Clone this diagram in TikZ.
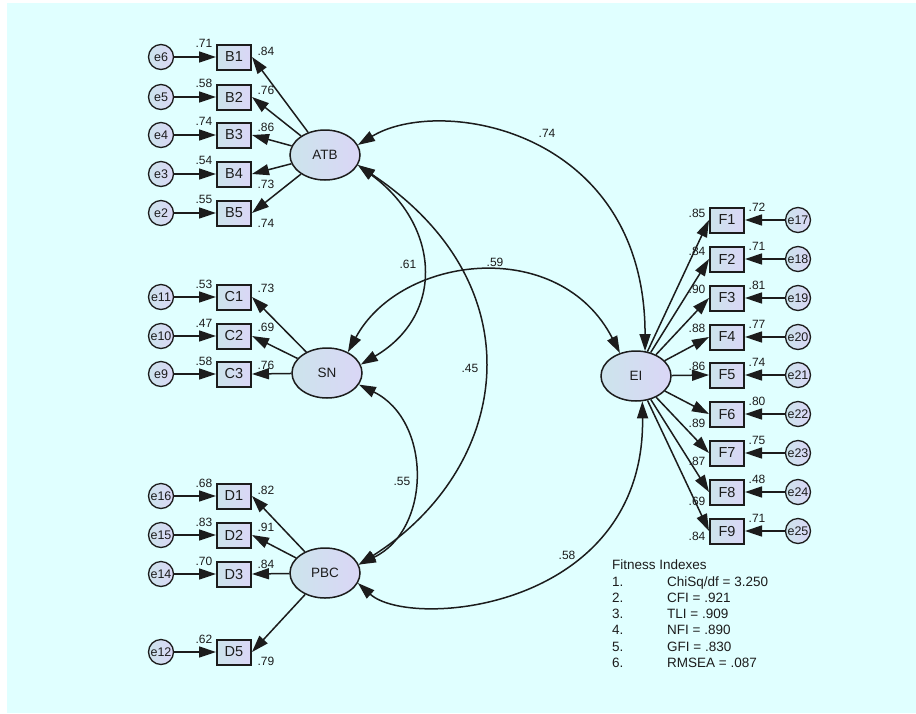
\documentclass[tikz,border=0pt]{standalone}
\usepackage{fontspec}
\setmainfont{Liberation Sans}
\usetikzlibrary{arrows.meta,shapes.geometric}
\definecolor{bgc}{RGB}{224,255,255}
\definecolor{fl}{RGB}{204,228,236}
\definecolor{fr}{RGB}{218,214,246}
\definecolor{ink}{RGB}{28,28,28}
\tikzset{
 err/.style={circle, draw=ink, line width=1.3pt, left color=fl, right color=fr, minimum size=25pt, inner sep=0pt, font=\fontsize{12.5}{13}\selectfont, text=ink},
 obs/.style={rectangle, draw=ink, line width=2pt, left color=fl, right color=fr, minimum width=34pt, minimum height=25pt, inner sep=0pt, font=\fontsize{14.5}{15}\selectfont, text=ink},
 lat/.style={ellipse, draw=ink, line width=1.5pt, left color=fl, right color=fr, minimum width=70pt, minimum height=50pt, inner sep=0pt, font=\fontsize{13.5}{14}\selectfont, text=ink},
 lbl/.style={font=\fontsize{12}{13}\selectfont, text=ink, inner sep=0pt},
 arr/.style={draw=ink, line width=1.5pt, -{Triangle[length=17pt,width=11pt]}},
 cov/.style={draw=ink, line width=1.5pt, {Triangle[length=17pt,width=11pt]}-{Triangle[length=17pt,width=11pt]}},
 fitx/.style={font=\fontsize{13.5}{14}\selectfont, text=ink, anchor=base west, inner sep=0pt},
}
\begin{document}
\begin{tikzpicture}[x=1pt,y=-1pt]
\useasboundingbox (0,0) rectangle (916,713);
\fill[bgc] (7,3) rectangle (916,713);

% latent variables
\node[lat] (ATB) at (325,155) {ATB};
\node[lat] (SN) at (327,373) {SN};
\node[lat] (PBC) at (325,573) {PBC};
\node[lat] (EI) at (636,376) {EI};

% ATB block
\foreach \nn/\yy/\ee/\va/\lo/\oy in {1/57/6/.71/.84/-6, 2/97/5/.58/.76/-7, 3/135/4/.74/.86/-8, 4/174/3/.54/.73/10, 5/213/2/.55/.74/10} {
  \node[err] (e\ee) at (161,\yy) {e\ee};
  \node[obs] (B\nn) at (234,\yy) {B\nn};
  \draw[arr] (e\ee) -- (B\nn);
  \draw[arr] (ATB) -- (B\nn.east);
  \node[lbl] (vB\nn) at (204,{\yy-14}) {\va};
  \node[lbl] (lB\nn) at (266,{\yy+\oy}) {\lo};
}
% SN block
\foreach \nn/\yy/\ee/\va/\lo/\oy in {1/297/11/.53/.73/-9, 2/336/10/.47/.69/-9, 3/374/9/.58/.76/-9} {
  \node[err] (e\ee) at (161,\yy) {e\ee};
  \node[obs] (C\nn) at (234,\yy) {C\nn};
  \draw[arr] (e\ee) -- (C\nn);
  \draw[arr] (SN) -- (C\nn.east);
  \node[lbl] (vC\nn) at (204,{\yy-13}) {\va};
  \node[lbl] (lC\nn) at (266,{\yy+\oy}) {\lo};
}
% PBC block
\foreach \nn/\yy/\ee/\va/\lo/\oy in {1/496/16/.68/.82/-6, 2/535/15/.83/.91/-8, 3/574/14/.70/.84/-10, 5/652/12/.62/.79/9} {
  \node[err] (e\ee) at (161,\yy) {e\ee};
  \node[obs] (D\nn) at (234,\yy) {D\nn};
  \draw[arr] (e\ee) -- (D\nn);
  \draw[arr] (PBC) -- (D\nn.east);
  \node[lbl] (vD\nn) at (204,{\yy-13}) {\va};
  \node[lbl] (lD\nn) at (266,{\yy+\oy}) {\lo};
}
% EI block
\foreach \kk/\yy/\va/\lo/\oy in {1/220/.72/.85/-7, 2/259/.71/.84/-8, 3/298/.81/.90/-9, 4/337/.77/.88/-9, 5/375/.74/.86/-9, 6/414/.80/.89/9, 7/453/.75/.87/8, 8/492/.48/.69/9, 9/531/.71/.84/5} {
  \pgfmathtruncatemacro\en{16+\kk}
  \node[err] (e\en) at (798,\yy) {e\en};
  \node[obs] (F\kk) at (727,\yy) {F\kk};
  \draw[arr] (e\en) -- (F\kk);
  \draw[arr] (EI) -- (F\kk.west);
  \node[lbl] (vF\kk) at (757,{\yy-13}) {\va};
  \node[lbl] (lF\kk) at (697,{\yy+\oy}) {\lo};
}

% covariances
\draw[cov] (ATB.17) .. controls +(82,-50) and +(0,-222) .. (EI.70);
\draw[cov] (ATB.-17) .. controls +(82,60) and +(85,-50) .. (SN.14);
\draw[cov] (ATB.-17) .. controls +(183,122) and +(150,-95) .. (PBC.14);
\draw[cov] (SN.-20) .. controls +(73,36) and +(73,-35) .. (PBC.14);
\draw[cov] (PBC.-17) .. controls +(52,47) and +(3,209) .. (EI.-76);
\draw[cov] (SN.45) .. controls +(53,-98) and +(-60,-117) .. (EI.125);

\node[lbl] (c74) at (547,133) {.74};
\node[lbl] (c61) at (408,264) {.61};
\node[lbl] (c59) at (495,262) {.59};
\node[lbl] (c45) at (470,368) {.45};
\node[lbl] (c55) at (402,481) {.55};
\node[lbl] (c58) at (567,555) {.58};

% fit indexes
\node[fitx] (fh) at (612,569) {Fitness Indexes};
\node[fitx] (n1) at (612,586) {1.};
\node[fitx] (n2) at (612,602) {2.};
\node[fitx] (n3) at (612,618) {3.};
\node[fitx] (n4) at (612,634) {4.};
\node[fitx] (n5) at (612,651) {5.};
\node[fitx] (n6) at (612,667) {6.};
\node[fitx] (v1) at (667,586) {ChiSq/df = 3.250};
\node[fitx] (v2) at (667,602) {CFI = .921};
\node[fitx] (v3) at (667,618) {TLI = .909};
\node[fitx] (v4) at (667,634) {NFI = .890};
\node[fitx] (v5) at (667,651) {GFI = .830};
\node[fitx] (v6) at (667,667) {RMSEA = .087};
\end{tikzpicture}
\end{document}
